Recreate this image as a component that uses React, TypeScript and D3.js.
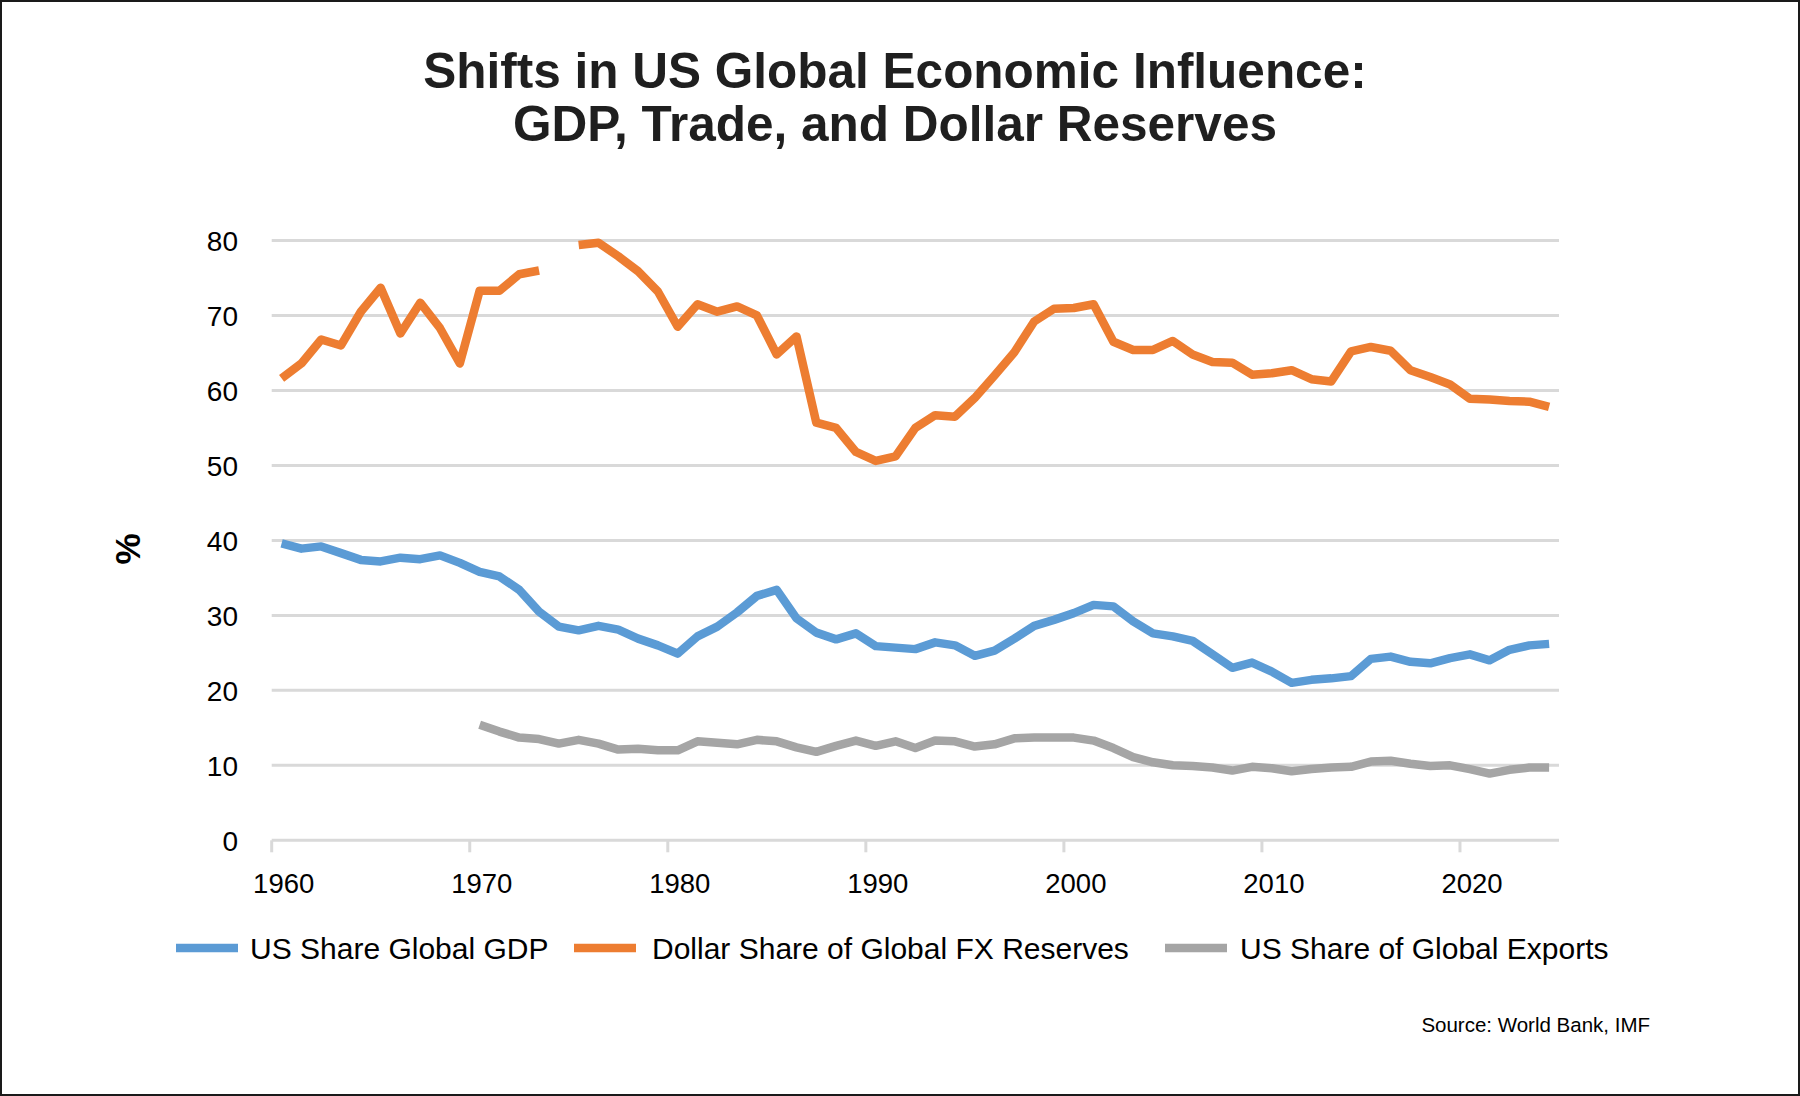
import React from "react";
import * as d3 from "d3";

// yearly observations, 1960–2024 (null = no data)
const years = d3.range(1960, 2025);

const gdpShare = [
  39.6, 38.9, 39.2, 38.3, 37.4, 37.2, 37.7, 37.5, 38.0, 37.0,
  35.8, 35.2, 33.4, 30.5, 28.5, 28.0, 28.6, 28.1, 26.9, 26.0,
  24.9, 27.2, 28.5, 30.4, 32.6, 33.4, 29.6, 27.7, 26.8, 27.6,
  25.9, 25.7, 25.5, 26.4, 26.0, 24.6, 25.3, 26.9, 28.6, 29.4,
  30.3, 31.4, 31.2, 29.2, 27.6, 27.2, 26.6, 24.8, 23.0, 23.7,
  22.5, 21.0, 21.4, 21.6, 21.9, 24.2, 24.5, 23.8, 23.6, 24.3,
  24.8, 24.0, 25.4, 26.0, 26.2,
];

const fxReserves = [
  61.6, 63.6, 66.8, 66.0, 70.5, 73.7, 67.6, 71.7, 68.3, 63.6,
  73.3, 73.3, 75.5, 76.0, null, 79.4, 79.7, 77.9, 75.9, 73.2,
  68.5, 71.5, 70.5, 71.2, 70.0, 64.8, 67.2, 55.7, 55.0, 51.8,
  50.6, 51.2, 55.0, 56.7, 56.5, 59.0, 62.0, 65.1, 69.2, 70.9,
  71.0, 71.5, 66.5, 65.4, 65.4, 66.6, 64.8, 63.8, 63.7, 62.1,
  62.3, 62.7, 61.5, 61.2, 65.2, 65.8, 65.3, 62.7, 61.8, 60.8,
  58.9, 58.8, 58.6, 58.5, 57.8,
];

const exportsShare = [
  null, null, null, null, null, null, null, null, null, null,
  15.4, 14.5, 13.7, 13.5, 12.9, 13.4, 12.9, 12.1, 12.2, 12.0,
  12.0, 13.2, 13.0, 12.8, 13.4, 13.2, 12.4, 11.8, 12.6, 13.3,
  12.6, 13.2, 12.3, 13.3, 13.2, 12.5, 12.8, 13.6, 13.7, 13.7,
  13.7, 13.3, 12.3, 11.1, 10.4, 10.0, 9.9, 9.7, 9.3, 9.8,
  9.6, 9.2, 9.5, 9.7, 9.8, 10.5, 10.6, 10.2, 9.9, 10.0,
  9.5, 8.9, 9.4, 9.7, 9.7,
];

const yTicks = [0, 10, 20, 30, 40, 50, 60, 70, 80];
const xTicks = [1960, 1970, 1980, 1990, 2000, 2010, 2020];

const series = [
  { name: "US Share Global GDP", values: gdpShare, color: "#5B9BD5" },
  { name: "Dollar Share of Global FX Reserves", values: fxReserves, color: "#ED7D31" },
  { name: "US Share of Global Exports", values: exportsShare, color: "#A5A5A5" },
];

const W = 1800;
const H = 1096;
const FONT = "'Liberation Sans', Arial, Helvetica, sans-serif";

export default function App() {
  const x = d3.scaleLinear().domain([1960, 2025]).range([271.7, 1559]);
  const y = d3.scaleLinear().domain([0, 80]).range([840.3, 240.5]);

  // points sit in the middle of each year's slot
  const line = d3
    .line<number | null>()
    .defined((d) => d != null)
    .x((_, i) => x(years[i] + 0.5))
    .y((d) => y(d as number));

  const legendItems = [
    { sx: 176, tx: 250 },
    { sx: 574, tx: 652 },
    { sx: 1165, tx: 1240 },
  ];

  return (
    <svg
      width={W}
      height={H}
      style={{ position: "absolute", left: 0, top: 0, background: "#fff" }}
      fontFamily={FONT}
    >
      <rect x={0} y={0} width={W} height={H} fill="#fff" />
      <rect x={1} y={1} width={W - 2} height={H - 2} fill="none" stroke="#1a1a1a" strokeWidth={2} />

      <text x={895} y={88} textAnchor="middle" fontSize={49.5} fontWeight="bold" fill="#1f1f1f">
        Shifts in US Global Economic Influence:
      </text>
      <text x={895} y={141} textAnchor="middle" fontSize={49.5} fontWeight="bold" fill="#1f1f1f">
        GDP, Trade, and Dollar Reserves
      </text>

      {/* gridlines + y labels */}
      {yTicks.map((t) => (
        <g key={t}>
          <line x1={x(1960)} x2={x(2025)} y1={y(t)} y2={y(t)} stroke="#D9D9D9" strokeWidth={3} />
          <text x={238} y={y(t)} dy="0.37em" textAnchor="end" fontSize={28} fill="#000">
            {t}
          </text>
        </g>
      ))}

      {/* decade ticks + x labels */}
      {xTicks.map((t) => (
        <g key={t}>
          <line x1={x(t)} x2={x(t)} y1={y(0)} y2={y(0) + 12} stroke="#D9D9D9" strokeWidth={3} />
          <text x={x(t) + 12} y={893} textAnchor="middle" fontSize={27.5} fill="#000">
            {t}
          </text>
        </g>
      ))}

      <text
        transform="translate(140,549) rotate(-90)"
        textAnchor="middle"
        fontSize={35}
        fontWeight="bold"
        fill="#000"
      >
        %
      </text>

      {series.map((s) => (
        <path
          key={s.name}
          d={line(s.values) || ""}
          fill="none"
          stroke={s.color}
          strokeWidth={8.5}
          strokeLinejoin="round"
          strokeLinecap="butt"
        />
      ))}

      {/* legend */}
      {series.map((s, i) => (
        <g key={s.name}>
          <line
            x1={legendItems[i].sx}
            x2={legendItems[i].sx + 62}
            y1={948}
            y2={948}
            stroke={s.color}
            strokeWidth={8.5}
          />
          <text x={legendItems[i].tx} y={959} fontSize={30} fill="#000">
            {s.name}
          </text>
        </g>
      ))}

      <text x={1650} y={1032} textAnchor="end" fontSize={20.5} fill="#000">
        Source: World Bank, IMF
      </text>
    </svg>
  );
}
